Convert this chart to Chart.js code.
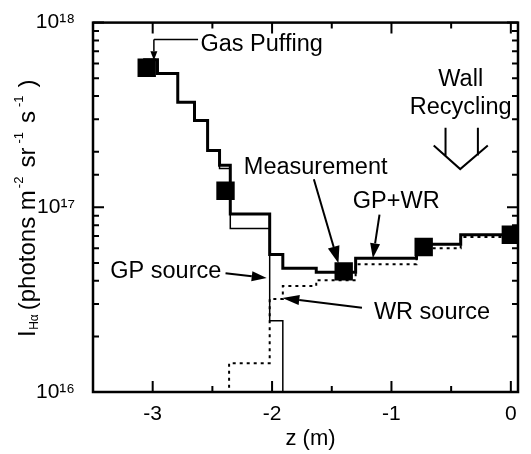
<!DOCTYPE html>
<html>
<head>
<title>H-alpha emission along z</title>
<script src="https://cdn.jsdelivr.net/npm/chart.js"></script>
<style>
    body { margin: 0; background: #fff; }
    #chart { display: block; }
</style>
</head>
<body>
<canvas id="chart" width="531" height="454"></canvas>
<script>
    // step profiles: left bin edges in z (m) and intensity of each bin,
    // the last entry closes the final bin
    const totalZ = [-3.08, -2.96, -2.79, -2.65, -2.54, -2.44, -2.35, -2.02, -1.91, -1.63, -1.30, -0.79, -0.42, 0.06];
    const totalI = [6.3e17, 5.3e17, 3.7e17, 2.95e17, 2.03e17, 1.69e17, 9.2e16, 5.56e16, 4.68e16, 4.45e16, 5.3e16, 6.3e16, 7.1e16, 7.1e16];

    // GP source, drops off scale (1e15) after z = -1.91
    const gpZ = [-3.08, -2.96, -2.79, -2.65, -2.54, -2.44, -2.35, -2.02, -1.91];
    const gpI = [6.3e17, 5.3e17, 3.7e17, 2.95e17, 2.03e17, 1.62e17, 7.67e16, 2.43e16, 1e15];

    // WR source, rises from off scale at z = -2.36
    const wrZ = [-2.36, -2.36, -2.02, -1.91, -1.63, -1.30, -0.79, -0.42, 0.06];
    const wrI = [1e15, 1.43e16, 3.19e16, 3.75e16, 4.03e16, 4.92e16, 6.0e16, 6.9e16, 6.9e16];

    // measured points
    const measZ = [-3.05, -2.39, -1.40, -0.73, 0.00];
    const measI = [5.7e17, 1.23e17, 4.5e16, 6.1e16, 7.1e16];

    const notes = [
        { text: 'Gas Puffing', z: -2.60, v: 7.6e17, align: 'left' },
        { text: 'Wall', z: -0.42, v: 4.94e17, align: 'center' },
        { text: 'Recycling', z: -0.42, v: 3.46e17, align: 'center' },
        { text: 'Measurement', z: -1.635, v: 1.65e17, align: 'center' },
        { text: 'GP+WR', z: -0.96, v: 1.07e17, align: 'center' },
        { text: 'GP source', z: -2.89, v: 4.5e16, align: 'center' },
        { text: 'WR source', z: -0.66, v: 2.69e16, align: 'center' }
    ];

    const arrows = [
        { from: [-1.65, 1.42e17], to: [-1.444, 4.98e16], head: 17, w: 6 },
        { from: [-1.10, 9.12e16], to: [-1.156, 5.3e16], head: 15, w: 5 },
        { from: [-2.39, 4.4e16], to: [-2.045, 4.14e16], head: 15, w: 5 },
        { from: [-1.247, 2.86e16], to: [-1.914, 3.23e16], head: 17, w: 5 }
    ];

    const sup = { '-': '⁻', '0': '⁰', '1': '¹', '2': '²', '3': '³', '4': '⁴', '5': '⁵', '6': '⁶', '7': '⁷', '8': '⁸', '9': '⁹' };

    function steps(zs, vs) {
        return zs.map((z, i) => ({ x: z, y: vs[i] }));
    }

    function isDecade(v) {
        const e = Math.log10(v);
        return Math.abs(e - Math.round(e)) < 1e-6;
    }

    function arrowTo(ctx, x1, y1, x2, y2, head, w) {
        const ang = Math.atan2(y2 - y1, x2 - x1);
        const bx = x2 - head * Math.cos(ang), by = y2 - head * Math.sin(ang);
        ctx.beginPath();
        ctx.moveTo(x1, y1);
        ctx.lineTo(bx, by);
        ctx.stroke();
        ctx.beginPath();
        ctx.moveTo(x2, y2);
        ctx.lineTo(bx + w * Math.sin(ang), by - w * Math.cos(ang));
        ctx.lineTo(bx - w * Math.sin(ang), by + w * Math.cos(ang));
        ctx.closePath();
        ctx.fill();
    }

    const FONT = '"Liberation Sans", Arial, sans-serif';

    const overlay = {
        id: 'overlay',
        afterDraw(chart) {
            const { ctx, chartArea: a } = chart;
            const xs = chart.scales.x, ys = chart.scales.y;
            const P = (z, v) => [xs.getPixelForValue(z), ys.getPixelForValue(v)];
            ctx.save();
            ctx.strokeStyle = '#000';
            ctx.fillStyle = '#000';

            // frame
            ctx.lineWidth = 2.5;
            ctx.strokeRect(a.left, a.top, a.right - a.left, a.bottom - a.top);

            // inward ticks on all four sides
            ctx.lineWidth = 2;
            const tickX = (px, len) => {
                ctx.beginPath();
                ctx.moveTo(px, a.bottom); ctx.lineTo(px, a.bottom - len);
                ctx.moveTo(px, a.top); ctx.lineTo(px, a.top + len);
                ctx.stroke();
            };
            const tickY = (py, len) => {
                ctx.beginPath();
                ctx.moveTo(a.left, py); ctx.lineTo(a.left + len, py);
                ctx.moveTo(a.right, py); ctx.lineTo(a.right - len, py);
                ctx.stroke();
            };
            xs.ticks.forEach(t => {
                tickX(xs.getPixelForValue(t.value), 11);
                if (t.value - 0.5 > xs.min) tickX(xs.getPixelForValue(t.value - 0.5), 6);
            });
            ys.ticks.forEach(t => {
                tickY(ys.getPixelForValue(t.value), isDecade(t.value) ? 11 : 6);
            });

            // axis titles
            ctx.textBaseline = 'middle';
            ctx.textAlign = 'center';
            ctx.font = '22px ' + FONT;
            ctx.fillText('z (m)', (a.left + a.right) / 2 + 5, a.bottom + 47);

            ctx.save();
            ctx.translate(a.left - 58, a.bottom - 55);
            ctx.rotate(-Math.PI / 2);
            ctx.textAlign = 'left';
            ctx.textBaseline = 'alphabetic';
            const runs = [
                { t: 'I', size: 24, dy: 0, gap: 0.5 },
                { t: 'Hα', size: 12, dy: -3, gap: 4 },
                { t: '(photons m', size: 24, dy: 0, gap: 2 },
                { t: '-2', size: 13, dy: 12, gap: 9 },
                { t: 'sr', size: 24, dy: 0, gap: 4 },
                { t: '-1', size: 13, dy: 12, gap: 9 },
                { t: 's', size: 24, dy: 0, gap: 4 },
                { t: '-1', size: 13, dy: 12, gap: 8 },
                { t: ')', size: 24, dy: 0, gap: 0 }
            ];
            let cx = 0;
            runs.forEach(r => {
                ctx.font = r.size + 'px ' + FONT;
                ctx.fillText(r.t, cx, -r.dy);
                cx += ctx.measureText(r.t).width + r.gap;
            });
            ctx.restore();

            // annotations
            ctx.font = '23.5px ' + FONT;
            ctx.textBaseline = 'middle';
            notes.forEach(n => {
                const [px, py] = P(n.z, n.v);
                ctx.textAlign = n.align;
                ctx.fillText(n.text, px, py);
            });

            ctx.lineWidth = 2;
            arrows.forEach(ar => {
                const [x1, y1] = P(...ar.from);
                const [x2, y2] = P(...ar.to);
                arrowTo(ctx, x1, y1, x2, y2, ar.head, ar.w);
            });

            // gas puffing leader
            ctx.lineWidth = 1.5;
            const [g1x, g1y] = P(-2.62, 8.1e17);
            const [g2x, g2y] = P(-2.99, 8.1e17);
            const [g3x, g3y] = P(-2.99, 6.25e17);
            ctx.beginPath();
            ctx.moveTo(g1x, g1y); ctx.lineTo(g2x, g2y);
            ctx.stroke();
            arrowTo(ctx, g2x, g2y, g3x, g3y, 9, 3.5);

            // wall recycling open arrow
            ctx.lineWidth = 2;
            ctx.beginPath();
            let p = P(-0.547, 2.7e17); ctx.moveTo(p[0], p[1]);
            p = P(-0.547, 1.91e17); ctx.lineTo(p[0], p[1]);
            p = P(-0.276, 2.7e17); ctx.moveTo(p[0], p[1]);
            p = P(-0.276, 1.91e17); ctx.lineTo(p[0], p[1]);
            p = P(-0.646, 2.16e17); ctx.moveTo(p[0], p[1]);
            p = P(-0.424, 1.61e17); ctx.lineTo(p[0], p[1]);
            p = P(-0.193, 2.16e17); ctx.lineTo(p[0], p[1]);
            ctx.stroke();

            ctx.restore();
        }
    };

    Chart.defaults.font.family = FONT;
    Chart.defaults.color = '#000';

    new Chart(document.getElementById('chart'), {
        type: 'line',
        data: {
            datasets: [
                {
                    label: 'Measurement',
                    data: steps(measZ, measI),
                    showLine: false,
                    pointStyle: 'rect',
                    pointRadius: 13,
                    backgroundColor: '#000',
                    borderColor: '#000',
                    borderWidth: 0,
                    order: 0
                },
                {
                    label: 'GP+WR',
                    data: steps(totalZ, totalI),
                    borderColor: '#000',
                    borderWidth: 3,
                    stepped: 'before',
                    pointRadius: 0,
                    fill: false,
                    order: 1
                },
                {
                    label: 'GP source',
                    data: steps(gpZ, gpI),
                    borderColor: '#000',
                    borderWidth: 1.5,
                    stepped: 'before',
                    pointRadius: 0,
                    fill: false,
                    order: 2
                },
                {
                    label: 'WR source',
                    data: steps(wrZ, wrI),
                    borderColor: '#000',
                    borderWidth: 2,
                    borderDash: [3, 4],
                    stepped: 'before',
                    pointRadius: 0,
                    fill: false,
                    order: 3
                }
            ]
        },
        options: {
            responsive: false,
            animation: false,
            devicePixelRatio: 1,
            layout: { padding: { left: 0, top: 19, right: 5, bottom: 0 } },
            plugins: {
                legend: { display: false },
                tooltip: { enabled: false }
            },
            scales: {
                x: {
                    type: 'linear',
                    min: -3.5,
                    max: 0.06,
                    grid: { display: false },
                    border: { display: false },
                    ticks: {
                        stepSize: 1,
                        includeBounds: false,
                        padding: 2,
                        font: { size: 21 },
                        color: '#000'
                    },
                    afterFit(scale) { scale.height = 62; }
                },
                y: {
                    type: 'logarithmic',
                    min: 1e16,
                    max: 1e18,
                    grid: { display: false },
                    border: { display: false },
                    ticks: {
                        autoSkip: false,
                        padding: 10,
                        font: { size: 21 },
                        color: '#000',
                        callback: v => isDecade(v)
                            ? '10' + String(Math.round(Math.log10(v))).split('').map(c => sup[c]).join('')
                            : ''
                    },
                    afterFit(scale) { scale.width = 93; }
                }
            }
        },
        plugins: [overlay]
    });
</script>
</body>
</html>
